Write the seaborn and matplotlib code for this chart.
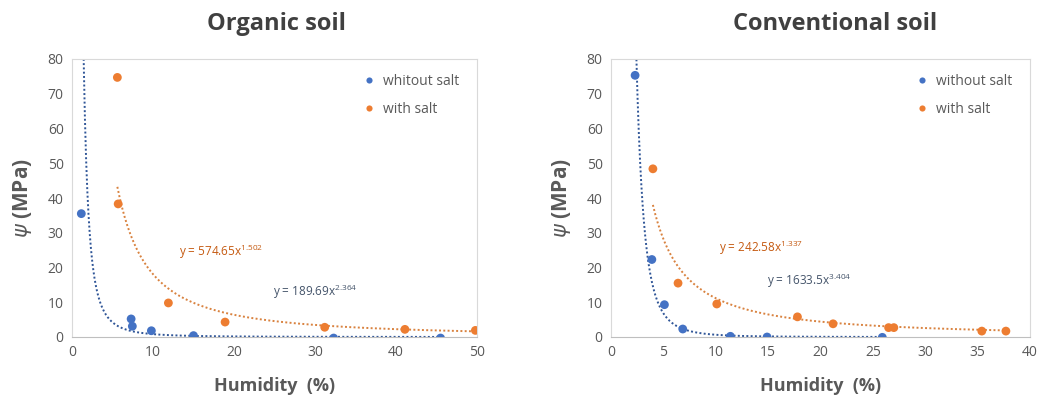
import numpy as np
import pandas as pd
import matplotlib
matplotlib.use("Agg")
import matplotlib.pyplot as plt
import seaborn as sns

# Organic soil measurements
org_nosalt_x = [1.15, 7.3, 7.45, 9.8, 15.0, 32.3, 45.5]
org_nosalt_y = [35.5, 5.2, 3.1, 1.8, 0.4, -0.3, -0.3]
org_salt_x = [5.6, 5.7, 11.9, 18.9, 31.2, 41.1, 49.8]
org_salt_y = [74.7, 38.3, 9.8, 4.3, 2.8, 2.2, 1.9]

# Conventional soil measurements
conv_nosalt_x = [2.3, 3.9, 5.1, 6.85, 11.4, 14.9, 25.9]
conv_nosalt_y = [75.3, 22.3, 9.3, 2.3, 0.2, 0.0, -0.1]
conv_salt_x = [4.0, 6.4, 10.1, 17.8, 21.2, 26.5, 27.0, 35.4, 37.7]
conv_salt_y = [48.4, 15.5, 9.5, 5.8, 3.8, 2.7, 2.7, 1.7, 1.7]

# Power-law fits  y = a * x^(-b)
org_fit_nosalt = (189.69, 2.364)
org_fit_salt = (574.65, 1.502)
conv_fit_nosalt = (1633.5, 3.404)
conv_fit_salt = (242.58, 1.337)

org_labels = ["whitout salt", "with salt"]
conv_labels = ["without salt", "with salt"]

BLUE = "#4472C4"
ORANGE = "#ED7D31"
BLUE_LINE = "#2F5597"
ORANGE_LINE = "#D9823F"
BLUE_TXT = "#44546A"
ORANGE_TXT = "#C55A11"
GRAY = "#595959"

sns.set_theme(style="white")
plt.rcParams["font.family"] = ["Open Sans", "DejaVu Sans"]
plt.rcParams["mathtext.default"] = "regular"

fig = plt.figure(figsize=(10.4, 4.01), dpi=100)
ax1 = fig.add_axes([72 / 1040, 1 - 337 / 401, 405 / 1040, 278 / 401])
ax2 = fig.add_axes([611 / 1040, 1 - 337 / 401, 419 / 1040, 278 / 401])


def panel(ax, title, nx, ny, sx, sy, fit_n, fit_s, labels, xmax, xstep,
          eq_s_pos, eq_n_pos, title_x):
    df = pd.DataFrame({
        "x": list(nx) + list(sx),
        "y": list(ny) + list(sy),
        "g": [labels[0]] * len(nx) + [labels[1]] * len(sx),
    })
    # trend lines
    for xs, (a, b), col in ((nx, fit_n, BLUE_LINE), (sx, fit_s, ORANGE_LINE)):
        xx = np.linspace(min(xs), max(xs), 600)
        yy = a * xx ** (-b)
        sns.lineplot(x=xx, y=yy, ax=ax, color=col, linestyle=(0, (1, 1.2)),
                     linewidth=1.4, legend=False)
    sns.scatterplot(data=df, x="x", y="y", hue="g",
                    palette={labels[0]: BLUE, labels[1]: ORANGE},
                    s=40, edgecolor="none", ax=ax, zorder=3)
    ax.set_xlim(0, xmax)
    ax.set_ylim(0, 80)
    ax.set_xticks(np.arange(0, xmax + 0.1, xstep))
    ax.set_yticks(np.arange(0, 81, 10))
    ax.tick_params(axis="both", labelsize=10, colors=GRAY, length=0, pad=6)
    for s in ax.spines.values():
        s.set_color("#D9D9D9")
        s.set_linewidth(0.8)
    ax.spines["bottom"].set_color("#BFBFBF")
    ax.set_xlabel("Humidity  (%)", fontsize=13, fontweight="bold",
                  color=GRAY, labelpad=12)
    ax.set_ylabel(r"$\mathit{\psi}$ (MPa)", fontsize=15, fontweight="bold",
                  color=GRAY, labelpad=10)
    fig.text(title_x, 1 - 24 / 401, title, fontsize=17, fontweight="bold",
             color="#404040", ha="center", va="center")
    a, b = fit_s
    ax.text(*eq_s_pos, f"y = {a:.2f}x$^{{{b:.3f}}}$", fontsize=8.5,
            color=ORANGE_TXT, va="center")
    a, b = fit_n
    txt_a = f"{a:.2f}" if a < 1000 else f"{a:.1f}"
    ax.text(*eq_n_pos, f"y = {txt_a}x$^{{{b:.3f}}}$", fontsize=8.5,
            color=BLUE_TXT, va="center")
    leg = ax.legend(loc="upper right", bbox_to_anchor=(0.98, 0.98),
                    frameon=False, fontsize=10, handletextpad=0.0,
                    labelspacing=0.9, markerscale=0.7, borderaxespad=0.3)
    for t in leg.get_texts():
        t.set_color(GRAY)


panel(ax1, "Organic soil", org_nosalt_x, org_nosalt_y, org_salt_x, org_salt_y,
      org_fit_nosalt, org_fit_salt, org_labels, 50, 10,
      (13.2, 24.5), (24.8, 13.0), 276 / 1040)
panel(ax2, "Conventional soil", conv_nosalt_x, conv_nosalt_y, conv_salt_x,
      conv_salt_y, conv_fit_nosalt, conv_fit_salt, conv_labels, 40, 5,
      (10.3, 25.5), (14.9, 16.0), 835 / 1040)

fig.savefig("out.png", dpi=100)
